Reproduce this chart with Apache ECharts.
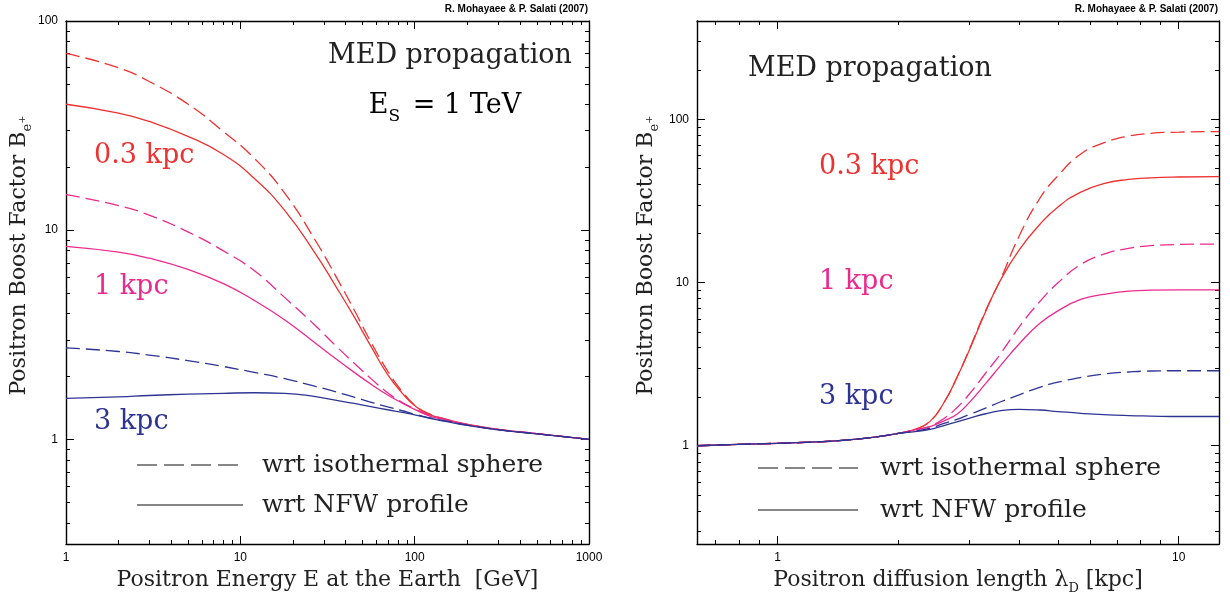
<!DOCTYPE html>
<html>
<head>
<meta charset="utf-8">
<script src="https://cdn.jsdelivr.net/npm/echarts@6/dist/echarts.min.js"></script>
<style>
html,body{margin:0;padding:0;background:#fff;}
#c{width:1230px;height:595px;}
</style>
</head>
<body>
<div id="c"></div>
<script>
// ---------- data: left panel (positron energy E [GeV]) ----------
const energy    = [1, 2, 3, 5, 8, 12, 18, 27, 35, 45, 57, 70, 85, 100, 120, 150, 200, 300, 500, 1000];
const red03Iso  = [70, 59.8, 51.4, 40.1, 29.6, 22.1, 15.0, 8.9, 6.1, 4.15, 2.85, 2.12, 1.69, 1.46, 1.33, 1.25, 1.18, 1.115, 1.065, 1.0];
const red03Nfw  = [40, 36.3, 33.1, 28.1, 23.0, 17.7, 12.4, 7.7, 5.45, 3.85, 2.72, 2.04, 1.66, 1.45, 1.32, 1.25, 1.18, 1.115, 1.065, 1.0];
const mag1Iso   = [14.8, 13.1, 11.8, 9.82, 7.96, 6.41, 4.76, 3.49, 2.82, 2.31, 1.93, 1.67, 1.50, 1.40, 1.31, 1.245, 1.178, 1.115, 1.065, 1.0];
const mag1Nfw   = [8.37, 7.85, 7.35, 6.5, 5.55, 4.62, 3.72, 2.88, 2.44, 2.09, 1.82, 1.63, 1.49, 1.39, 1.30, 1.24, 1.175, 1.115, 1.065, 1.0];
const blue3Iso  = [2.74, 2.63, 2.53, 2.38, 2.23, 2.09, 1.95, 1.79, 1.69, 1.59, 1.50, 1.43, 1.37, 1.32, 1.27, 1.225, 1.17, 1.112, 1.063, 1.0];
const blue3Nfw  = [1.57, 1.595, 1.62, 1.645, 1.66, 1.67, 1.66, 1.60, 1.54, 1.485, 1.43, 1.385, 1.345, 1.31, 1.265, 1.22, 1.165, 1.11, 1.062, 1.0];

// ---------- data: right panel (diffusion length lambda_D [kpc]) ----------
const lambdaD   = [0.63, 0.8, 1, 1.25, 1.5, 1.8, 2.0, 2.2, 2.4, 2.6, 2.8, 3.0, 3.3, 3.6, 4.0, 4.5, 5.0, 5.7, 6.5, 7.5, 8.5, 10, 12.6];
const rRed03Iso = [1.00, 1.02, 1.035, 1.055, 1.085, 1.14, 1.19, 1.26, 1.41, 1.84, 2.62, 3.85, 6.7, 10.5, 19.2, 32.6, 45.1, 61.2, 71.6, 78.9, 82, 83.4, 84];
const rRed03Nfw = [1.00, 1.02, 1.035, 1.055, 1.085, 1.14, 1.19, 1.26, 1.41, 1.84, 2.62, 3.81, 6.62, 10.4, 15.8, 22.6, 29.0, 35.8, 40.3, 42.8, 43.8, 44.3, 44.5];
const rMag1Iso  = [1.00, 1.02, 1.035, 1.055, 1.085, 1.14, 1.19, 1.25, 1.32, 1.47, 1.71, 2.06, 2.78, 3.67, 5.33, 7.62, 9.95, 12.9, 14.9, 16.2, 16.8, 17.1, 17.2];
const rMag1Nfw  = [1.00, 1.02, 1.035, 1.055, 1.085, 1.14, 1.19, 1.25, 1.31, 1.42, 1.56, 1.83, 2.40, 3.11, 4.2, 5.6, 6.7, 7.87, 8.45, 8.85, 8.97, 9.0, 9.0];
const rBlue3Iso = [1.00, 1.02, 1.035, 1.055, 1.085, 1.14, 1.19, 1.23, 1.28, 1.37, 1.45, 1.55, 1.70, 1.86, 2.05, 2.28, 2.45, 2.62, 2.75, 2.83, 2.87, 2.88, 2.88];
const rBlue3Nfw = [1.00, 1.02, 1.035, 1.055, 1.085, 1.14, 1.19, 1.22, 1.26, 1.33, 1.40, 1.47, 1.57, 1.64, 1.67, 1.655, 1.62, 1.58, 1.55, 1.53, 1.52, 1.51, 1.51];

// ---------- minor tick values ----------
const leftXMinor  = [2,3,4,5,6,7,8,9, 20,30,40,50,60,70,80,90, 200,300,400,500,600,700,800,900];
const leftYMinor  = [0.4,0.5,0.6,0.7,0.8,0.9, 2,3,4,5,6,7,8,9, 20,30,40,50,60,70,80,90];
const rightXMinor = [0.7,0.8,0.9, 2,3,4,5,6,7,8,9];
const rightYMinor = [0.3,0.4,0.5,0.6,0.7,0.8,0.9, 2,3,4,5,6,7,8,9, 20,30,40,50,60,70,80,90, 200,300];

const RED = '#ee3131', MAG = '#ec2a8e', BLUE = '#2e3492';
const SERIF = '"DejaVu Serif", "Liberation Serif", serif';
const TICKFONT = '"Liberation Sans", Arial, sans-serif';

function zip(xs, ys) { return xs.map((x, i) => [x, ys[i]]); }
function fmt(v) { return String(Math.round(v * 1000) / 1000); }

function makeAxis(gridIndex, position, min, max, labels, opts) {
  return Object.assign({
    type: 'log', logBase: 10, gridIndex, position, min, max,
    axisLine: { show: true, onZero: false, lineStyle: { color: '#000', width: 1.4 } },
    axisTick: { show: true, inside: true, length: 8, lineStyle: { color: '#000', width: 1 } },
    axisLabel: { show: labels, color: '#000', fontFamily: TICKFONT, fontSize: 12, margin: 8, formatter: fmt },
    splitLine: { show: false },
    minorTick: { show: false }, minorSplitLine: { show: false }
  }, opts || {});
}

const nameRich = {
  s: { fontFamily: SERIF, fontSize: 13, color: '#222', verticalAlign: 'bottom', lineHeight: 15, padding: [0, 0, -4, 0] },
  p: { fontFamily: SERIF, fontSize: 10, color: '#222', verticalAlign: 'bottom', lineHeight: 15, padding: [0, 0, 3, 0] }
};
const nameStyle = { fontFamily: SERIF, fontSize: 22, color: '#222', rich: nameRich };

const xAxes = [
  makeAxis(0, 'bottom', 1, 1000, true, {
    name: 'Positron Energy E at the Earth  [GeV]', nameLocation: 'middle', nameGap: 25,
    nameTextStyle: nameStyle
  }),
  makeAxis(0, 'top', 1, 1000, false),
  makeAxis(1, 'bottom', 0.63, 12.6, true, {
    axisLabel: { show: true, color: '#000', fontFamily: TICKFONT, fontSize: 12, margin: 8, formatter: fmt, showMinLabel: false, showMaxLabel: false },
    name: 'Positron diffusion length λ{s|D} [kpc]', nameLocation: 'middle', nameGap: 25,
    nameTextStyle: nameStyle
  }),
  makeAxis(1, 'top', 0.63, 12.6, false)
];
const yAxes = [
  makeAxis(0, 'left', 0.316, 100, true, {
    axisLabel: { show: true, color: '#000', fontFamily: TICKFONT, fontSize: 12, margin: 8, formatter: fmt, showMinLabel: false },
    name: 'Positron Boost Factor B{s|e}{p|+}', nameLocation: 'middle', nameGap: 35,
    nameTextStyle: Object.assign({}, nameStyle, { padding: [0, 0, 0, 54] })
  }),
  makeAxis(0, 'right', 0.316, 100, false),
  makeAxis(1, 'left', 0.25, 400, true, {
    axisLabel: { show: true, color: '#000', fontFamily: TICKFONT, fontSize: 12, margin: 8, formatter: fmt, showMinLabel: false, showMaxLabel: false },
    name: 'Positron Boost Factor B{s|e}{p|+}', nameLocation: 'middle', nameGap: 40,
    nameTextStyle: Object.assign({}, nameStyle, { padding: [0, 0, 0, 54] })
  }),
  makeAxis(1, 'right', 0.25, 400, false)
];

function curve(xIdx, yIdx, xs, ys, color, dashed) {
  return {
    type: 'line', xAxisIndex: xIdx, yAxisIndex: yIdx, data: zip(xs, ys),
    smooth: 0.5, showSymbol: false, symbol: 'none', silent: true, animation: false,
    lineStyle: { color, width: 1.3, type: dashed ? [14, 6] : 'solid' },
    z: 3
  };
}

function minorTicks(xIdx, yIdx, xMinor, yMinor, xRef, yRef) {
  const data = xMinor.map(v => [v, yRef, 0]).concat(yMinor.map(v => [xRef, v, 1]));
  return {
    type: 'custom', xAxisIndex: xIdx, yAxisIndex: yIdx, data, silent: true, animation: false, clip: false,
    renderItem(params, api) {
      const cs = params.coordSys;
      const p = api.coord([api.value(0), api.value(1)]);
      const L = 4;
      const st = { stroke: '#000', lineWidth: 1 };
      if (api.value(2) === 0) {
        const x = Math.round(p[0]) + 0.5;
        return { type: 'group', children: [
          { type: 'line', shape: { x1: x, y1: cs.y + cs.height, x2: x, y2: cs.y + cs.height - L }, style: st },
          { type: 'line', shape: { x1: x, y1: cs.y, x2: x, y2: cs.y + L }, style: st }
        ]};
      }
      const y = Math.round(p[1]) + 0.5;
      return { type: 'group', children: [
        { type: 'line', shape: { x1: cs.x, y1: y, x2: cs.x + L, y2: y }, style: st },
        { type: 'line', shape: { x1: cs.x + cs.width, y1: y, x2: cs.x + cs.width - L, y2: y }, style: st }
      ]};
    }
  };
}

function txt(x, y, text, color, size, align) {
  return {
    type: 'text', x, y, silent: true,
    style: { text, fill: color, font: size + 'px ' + SERIF, textAlign: align || 'left', textVerticalAlign: 'middle' }
  };
}
function legLine(x1, x2, y, dashed) {
  return { type: 'line', silent: true, shape: { x1, y1: y, x2, y2: y },
    style: { stroke: '#111', lineWidth: 1.1, lineDash: dashed ? [20, 7] : null } };
}
const CREDIT_FONT = 'bold 10px "Liberation Sans", Arial, sans-serif';

const graphic = [
  { type: 'text', x: 588, y: 9, silent: true, style: { text: 'R. Mohayaee & P. Salati (2007)', fill: '#000', font: CREDIT_FONT, textAlign: 'right', textVerticalAlign: 'middle' } },
  { type: 'text', x: 1218, y: 9, silent: true, style: { text: 'R. Mohayaee & P. Salati (2007)', fill: '#000', font: CREDIT_FONT, textAlign: 'right', textVerticalAlign: 'middle' } },
  txt(450, 56, 'MED propagation', '#222', 27, 'center'),
  { type: 'text', x: 445, y: 103, silent: true, style: {
      text: '{a|E}{s|S}{a| = 1 TeV}', textAlign: 'center', textVerticalAlign: 'middle',
      rich: { a: { fontFamily: SERIF, fontSize: 27, color: '#222', lineHeight: 32, verticalAlign: 'bottom' },
              s: { fontFamily: SERIF, fontSize: 17, color: '#222', lineHeight: 22, verticalAlign: 'bottom', padding: [0, 4, -6, 0] } } } },
  txt(94, 156, '0.3 kpc', RED, 27),
  txt(94, 287, '1 kpc', MAG, 27),
  txt(94, 422, '3 kpc', BLUE, 27),
  legLine(137, 240, 465, true),
  txt(262, 465, 'wrt isothermal sphere', '#222', 25),
  legLine(137, 243, 505, false),
  txt(262, 505, 'wrt NFW profile', '#222', 25),
  txt(748, 69, 'MED propagation', '#222', 27),
  txt(819, 167, '0.3 kpc', RED, 27),
  txt(819, 282, '1 kpc', MAG, 27),
  txt(819, 397, '3 kpc', BLUE, 27),
  legLine(758, 858, 468, true),
  txt(880, 468, 'wrt isothermal sphere', '#222', 25),
  legLine(758, 858, 510, false),
  txt(880, 510, 'wrt NFW profile', '#222', 25)
];

const option = {
  backgroundColor: '#fff',
  animation: false,
  grid: [
    { left: 66, top: 21, width: 523, height: 523, containLabel: false, outerBoundsMode: 'none' },
    { left: 697, top: 21, width: 522, height: 523, containLabel: false, outerBoundsMode: 'none' }
  ],
  xAxis: xAxes,
  yAxis: yAxes,
  series: [
    curve(0, 0, energy, red03Iso, RED, true),
    curve(0, 0, energy, red03Nfw, RED, false),
    curve(0, 0, energy, mag1Iso, MAG, true),
    curve(0, 0, energy, mag1Nfw, MAG, false),
    curve(0, 0, energy, blue3Iso, BLUE, true),
    curve(0, 0, energy, blue3Nfw, BLUE, false),
    curve(2, 2, lambdaD, rRed03Iso, RED, true),
    curve(2, 2, lambdaD, rRed03Nfw, RED, false),
    curve(2, 2, lambdaD, rMag1Iso, MAG, true),
    curve(2, 2, lambdaD, rMag1Nfw, MAG, false),
    curve(2, 2, lambdaD, rBlue3Iso, BLUE, true),
    curve(2, 2, lambdaD, rBlue3Nfw, BLUE, false),
    minorTicks(0, 0, leftXMinor, leftYMinor, 10, 1),
    minorTicks(2, 2, rightXMinor, rightYMinor, 2, 1)
  ],
  graphic
};

const chart = echarts.init(document.getElementById('c'), null, { renderer: 'canvas' });
chart.setOption(option);
</script>
</body>
</html>
